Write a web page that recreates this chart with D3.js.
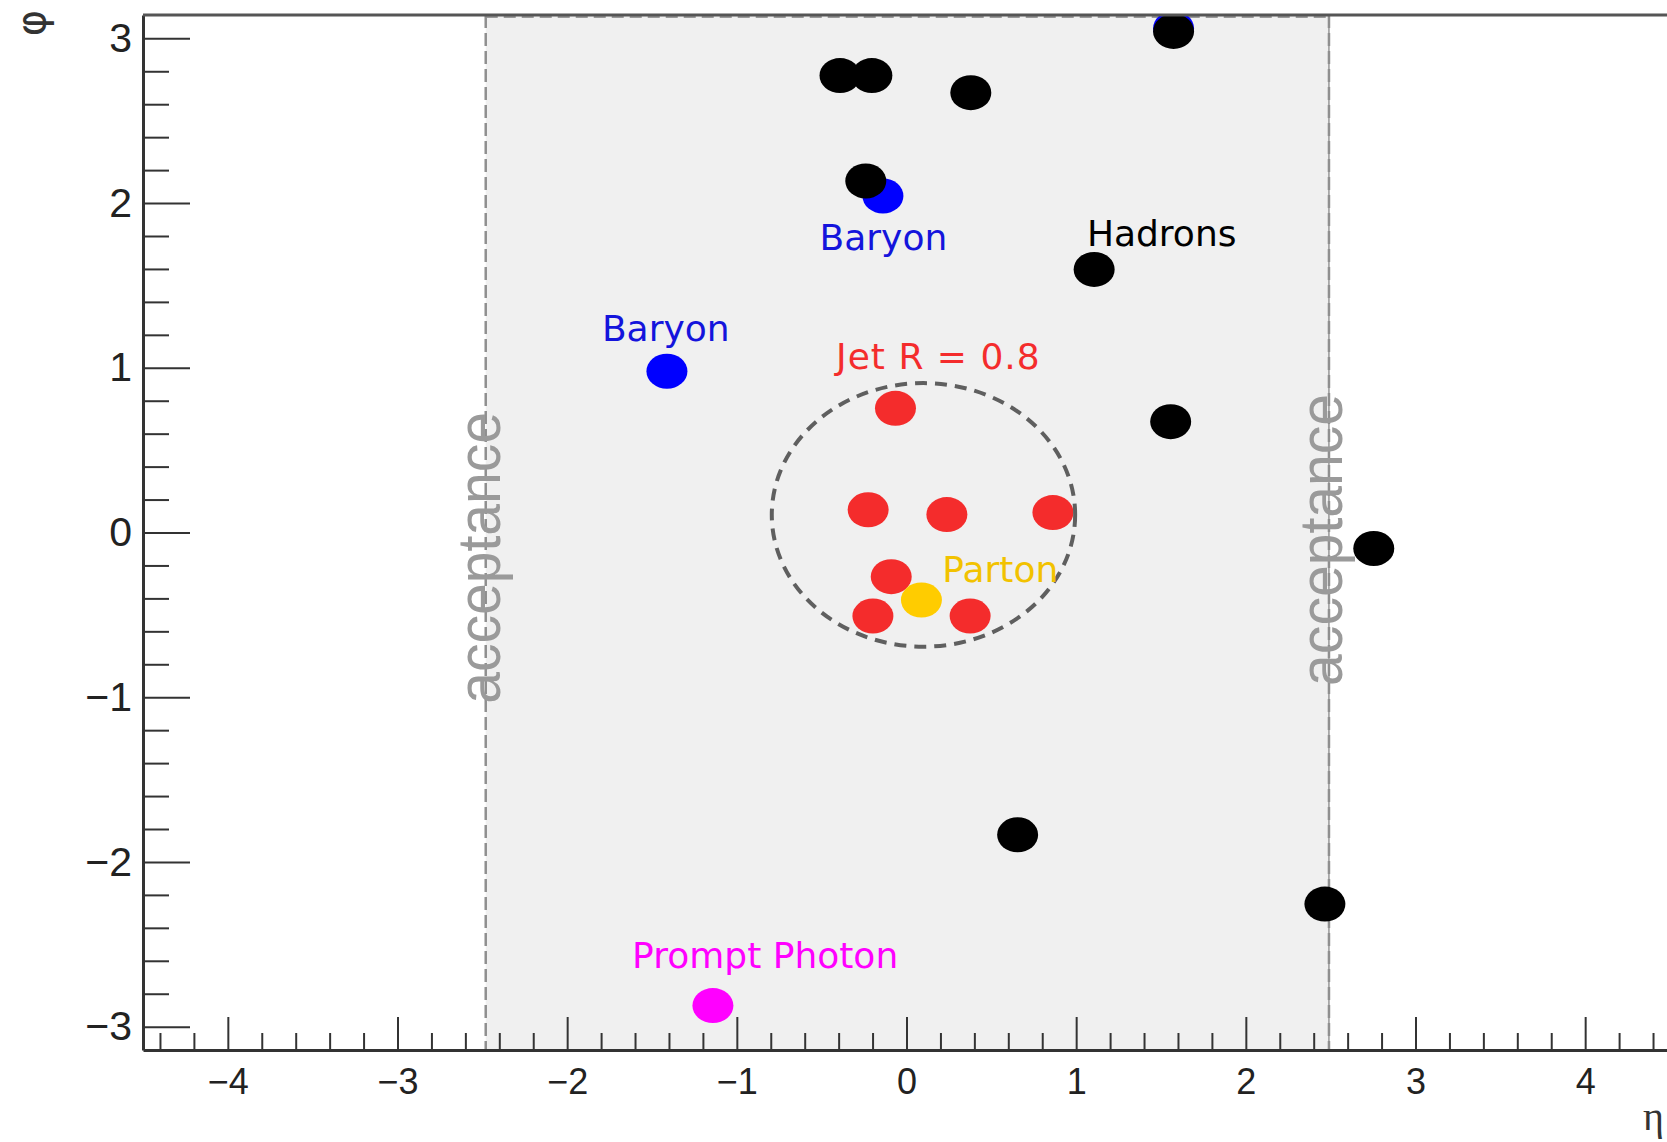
<!DOCTYPE html>
<html>
<head>
<meta charset="utf-8">
<title>eta-phi event display</title>
<script src="https://cdnjs.cloudflare.com/ajax/libs/d3/7.8.5/d3.min.js"></script>
<style>
  body { margin: 0; background: #fff; }
  svg { display: block; }
</style>
</head>
<body>
<svg id="chart"></svg>
<script>
// particle positions (eta, phi)
var hadronEta = [1.574, -0.392, -0.204, 0.379, -0.240, 1.106, 1.557, 2.754, 0.655, 2.466];
var hadronPhi = [3.042, 2.774, 2.774, 2.670, 2.134, 1.597, 0.673, -0.097, -1.835, -2.256];
var baryonEta = [1.574, -0.139, -1.412];
var baryonPhi = [3.060, 2.043, 0.979];
var jetEta = [-0.065, -0.226, 0.238, 0.863, -0.090, -0.198, 0.375];
var jetPhi = [0.754, 0.138, 0.109, 0.121, -0.268, -0.507, -0.507];
var partonEta = [0.088];
var partonPhi = [-0.410];
var photonEta = [-1.141];
var photonPhi = [-2.872];

// jet cone: centre eta, centre phi, radius in eta, radius in phi
var jetCone = [0.100, 0.107, 0.894, 0.800];
// acceptance band edges in eta
var acceptance = [-2.48, 2.49];
var accLabelEta = [-2.397, 2.566];
var accLabelPhi = [-0.154, -0.045];

// tick labels
var xTicks = [-4, -3, -2, -1, 0, 1, 2, 3, 4];
var yTicks = [-3, -2, -1, 0, 1, 2, 3];

// annotations
var labelText = ["Baryon", "Baryon", "Hadrons", "Jet R = 0.8", "Parton", "Prompt Photon"];
var labelKind = ["baryon", "baryon", "hadron", "jet", "parton", "photon"];
var labelEta = [-0.136, -1.419, 1.504, 0.188, 0.553, -0.833];
var labelPhi = [1.715, 1.161, 1.740, 0.990, -0.298, -2.643];

var dotColor = { hadron: "#000000", baryon: "#0000ff", jet: "#f42c2c", parton: "#ffcc00", photon: "#ff00ff" };
var textColor = { hadron: "#000000", baryon: "#1414dc", jet: "#f42c2c", parton: "#f2c200", photon: "#ff00ff" };

var svgWidth = 1667, svgHeight = 1142;
var margin = { top: 15, left: 143, bottom: 92 };
var plotRight = 1670;
var plotBottom = svgHeight - margin.bottom;

var svg = d3.select("#chart")
    .attr("width", svgWidth)
    .attr("height", svgHeight);

//scales
var x = d3.scaleLinear().domain([-4.5, 4.5]).range([margin.left, plotRight]);
var y = d3.scaleLinear().domain([-Math.PI, Math.PI]).range([plotBottom, margin.top]);

svg.append("clipPath").attr("id", "plotclip")
    .append("rect")
    .attr("x", margin.left)
    .attr("y", margin.top)
    .attr("width", plotRight - margin.left)
    .attr("height", plotBottom - margin.top);

// acceptance band
svg.append("rect")
    .attr("x", x(acceptance[0]))
    .attr("y", y(Math.PI))
    .attr("width", x(acceptance[1]) - x(acceptance[0]))
    .attr("height", y(-Math.PI) - y(Math.PI))
    .attr("fill", "#f0f0f0");

svg.append("line")
    .attr("x1", x(acceptance[0])).attr("x2", x(acceptance[1]))
    .attr("y1", y(Math.PI) + 2).attr("y2", y(Math.PI) + 2)
    .attr("stroke", "#999").attr("stroke-width", 2)
    .attr("stroke-dasharray", "12,6");

svg.append("line")
    .attr("x1", x(acceptance[1])).attr("x2", x(acceptance[1]))
    .attr("y1", y(Math.PI)).attr("y2", y(-Math.PI))
    .attr("stroke", "#666").attr("stroke-width", 1);

svg.selectAll(".accline")
    .data(acceptance)
    .enter().append("line")
    .attr("class", "accline")
    .attr("x1", function (d) { return x(d); })
    .attr("x2", function (d) { return x(d); })
    .attr("y1", y(Math.PI))
    .attr("y2", y(-Math.PI))
    .attr("stroke", "#8f8f8f")
    .attr("stroke-width", 2.5)
    .attr("stroke-dasharray", "13,5");

svg.selectAll(".acctext")
    .data(accLabelEta)
    .enter().append("text")
    .attr("class", "acctext")
    .attr("transform", function (d, i) {
        return "translate(" + x(d) + "," + y(accLabelPhi[i]) + ") rotate(-90)";
    })
    .attr("text-anchor", "middle")
    .attr("font-family", "'Liberation Sans', Arial, sans-serif")
    .attr("font-size", 62)
    .attr("textLength", 292)
    .attr("lengthAdjust", "spacingAndGlyphs")
    .attr("fill", "#9a9a9a")
    .text("acceptance");

// markers
var marks = svg.append("g").attr("clip-path", "url(#plotclip)");

function drawDots(etas, phis, kind) {
    marks.append("g")
        .selectAll("ellipse")
        .data(etas)
        .enter().append("ellipse")
        .attr("cx", function (d) { return x(d); })
        .attr("cy", function (d, i) { return y(phis[i]); })
        .attr("rx", 20.5)
        .attr("ry", 17.5)
        .attr("fill", dotColor[kind]);
}

drawDots(baryonEta, baryonPhi, "baryon");
drawDots(hadronEta, hadronPhi, "hadron");
drawDots(jetEta, jetPhi, "jet");
drawDots(partonEta, partonPhi, "parton");
drawDots(photonEta, photonPhi, "photon");

// jet cone
marks.append("ellipse")
    .attr("cx", x(jetCone[0]))
    .attr("cy", y(jetCone[1]))
    .attr("rx", x(jetCone[0] + jetCone[2]) - x(jetCone[0]))
    .attr("ry", y(jetCone[1]) - y(jetCone[1] + jetCone[3]))
    .attr("fill", "none")
    .attr("stroke", "#5f5f5f")
    .attr("stroke-width", 4)
    .attr("stroke-dasharray", "12,8");

// labels
svg.append("g")
    .selectAll("text")
    .data(labelText)
    .enter().append("text")
    .attr("x", function (d, i) { return x(labelEta[i]); })
    .attr("y", function (d, i) { return y(labelPhi[i]); })
    .attr("text-anchor", "middle")
    .attr("font-family", "'DejaVu Sans', Verdana, sans-serif")
    .attr("font-size", 36)
    .attr("letter-spacing", function (d, i) { return labelKind[i] == "jet" ? 1 : 0; })
    .attr("fill", function (d, i) { return textColor[labelKind[i]]; })
    .text(function (d) { return d; });

// axes
var fmt = function (d) { return d < 0 ? "\u2212" + Math.abs(d) : "" + d; };
var xMinor = d3.range(-44, 45, 2).filter(function (v) { return v % 10 != 0; }).map(function (v) { return v / 10; });
var yMinor = d3.range(-30, 31, 2).filter(function (v) { return v % 10 != 0; }).map(function (v) { return v / 10; });

var xAxis = svg.append("g")
    .attr("transform", "translate(0," + plotBottom + ")")
    .call(d3.axisBottom(x).tickValues(xTicks).tickSizeInner(-33).tickSizeOuter(0).tickPadding(18).tickFormat(fmt));
svg.append("g")
    .attr("transform", "translate(0," + plotBottom + ")")
    .call(d3.axisBottom(x).tickValues(xMinor).tickSizeInner(-17).tickSizeOuter(0).tickFormat(""))
    .select(".domain").remove();

var yAxis = svg.append("g")
    .attr("transform", "translate(" + margin.left + ",0)")
    .call(d3.axisLeft(y).tickValues(yTicks).tickSizeInner(-47).tickSizeOuter(0).tickPadding(11).tickFormat(fmt));
svg.append("g")
    .attr("transform", "translate(" + margin.left + ",0)")
    .call(d3.axisLeft(y).tickValues(yMinor).tickSizeInner(-26).tickSizeOuter(0).tickFormat(""))
    .select(".domain").remove();

svg.selectAll(".domain").attr("stroke", "#333").attr("stroke-width", 3);
svg.selectAll(".tick line").attr("stroke", "#333").attr("stroke-width", 2);
xAxis.selectAll("text").attr("font-size", 36).attr("font-family", "'Liberation Sans', Arial, sans-serif").attr("fill", "#222");
yAxis.selectAll("text").attr("font-size", 41).attr("font-family", "'Liberation Sans', Arial, sans-serif").attr("fill", "#222");

// top frame
svg.append("line")
    .attr("x1", margin.left).attr("x2", plotRight)
    .attr("y1", margin.top).attr("y2", margin.top)
    .attr("stroke", "#555").attr("stroke-width", 3);

// axis titles
svg.append("text")
    .attr("transform", "translate(31,23) rotate(-90)")
    .attr("text-anchor", "middle")
    .attr("dy", "0.35em")
    .attr("font-family", "'DejaVu Sans', sans-serif")
    .attr("font-size", 40)
    .attr("fill", "#333")
    .text("\u03c6");

svg.append("text")
    .attr("x", 1643)
    .attr("y", 1130)
    .attr("font-family", "'Liberation Serif', serif")
    .attr("font-size", 40)
    .attr("fill", "#333")
    .text("\u03b7");
</script>
</body>
</html>
